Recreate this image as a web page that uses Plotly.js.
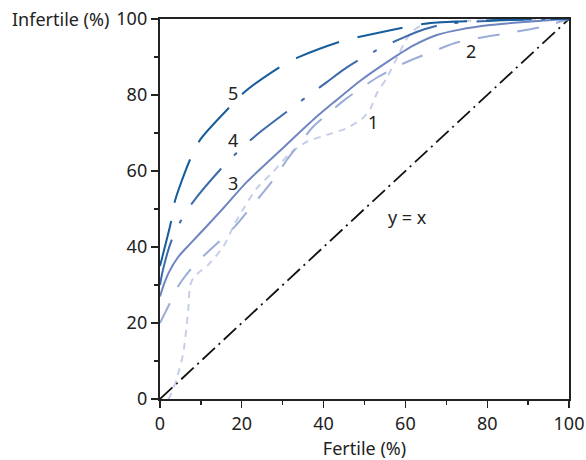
<!DOCTYPE html>
<html>
<head>
<meta charset="utf-8">
<script src="https://cdn.plot.ly/plotly-3.0.1.min.js"></script>
<style>html,body{margin:0;padding:0;background:#fff;}#chart{width:586px;height:460px;}</style>
</head>
<body>
<div id="chart"></div>
<script>
// Curve 1 (lightest, short dashes)
const fertile1 = [2, 2.4, 4, 5.7, 6.9, 7.3, 8.1, 9.7, 11.8, 15.5, 18.3, 20.7, 23.6, 27.7, 31.8, 35.9, 40.8, 45.6, 49.7, 51.5, 53, 55.4, 57.9, 60.3, 62, 64.4, 70, 80, 90, 100];
const infertile1 = [0, 0.6, 5, 12, 23.4, 29.6, 31.8, 33.5, 35.3, 40.1, 46.2, 50.6, 55.4, 59.8, 64.7, 67.7, 69.5, 71.2, 74, 76.5, 80.4, 84.4, 89.7, 94.8, 97, 98.6, 99.3, 99.7, 99.9, 100];
// Curve 2 (light, dashed)
const fertile2 = [0, 2.4, 4.4, 7.7, 10.9, 15, 18.4, 22, 24.9, 28.4, 31, 34.4, 37.5, 41.6, 45.6, 49.7, 53.4, 58.7, 62.8, 68, 72.5, 77.8, 85.6, 93.7, 100];
const infertile2 = [20, 25.2, 29.6, 34.4, 37.9, 42, 45.5, 50.2, 53.9, 58.7, 62.9, 67.7, 71.7, 75.6, 79.1, 82.2, 84.8, 87.9, 89.8, 92, 93.8, 95, 96.4, 98, 100];
// Curve 3 (solid)
const fertile3 = [0, 1, 2.2, 4.4, 7.7, 11.7, 15.8, 21.3, 30, 38, 43.2, 48.9, 55.4, 61.9, 67.7, 73.3, 80.7, 90, 100];
const infertile3 = [27, 30.3, 33.4, 37.3, 41.2, 45.8, 50.6, 57.2, 66, 74, 78.7, 83.7, 88.6, 93, 95.8, 97.2, 98.4, 99.3, 100];
// Curve 4 (long dash-dot)
const fertile4 = [0, 0.7, 2.9, 5.2, 8.1, 15.6, 19.1, 23.6, 32.6, 36.7, 40.8, 44.8, 48.9, 54.6, 59.9, 64.6, 69.3, 80, 90, 100];
const infertile4 = [30, 33.9, 42, 47.1, 51.9, 61.4, 65.1, 69.5, 76.9, 80.2, 83.4, 86.6, 89.4, 92.7, 95.3, 97.3, 98.6, 99.5, 99.9, 100];
// Curve 5 (darkest, long dash)
const fertile5 = [0, 2.8, 3.6, 7.3, 9.8, 17.1, 20.8, 30.1, 34.2, 44.8, 49.7, 60.7, 65.6, 77, 90, 100];
const infertile5 = [35, 47.1, 51.9, 62.9, 68.2, 76.9, 80.9, 87.9, 90.1, 94.3, 95.5, 98, 98.9, 99.5, 99.9, 100];
// Reference line y = x
const diagX = [0, 100];
const diagY = [0, 100];
// Curve labels
const labelText = ["1", "2", "3", "4", "5", "y = x"];
const labelX = [52, 76, 17.8, 17.8, 17.8, 60.5];
const labelY = [72.8, 91.5, 56.8, 68.2, 80.5, 47.8];
const tickVals = [0, 20, 40, 60, 80, 100];

const FONT = "Noto Sans, Open Sans, sans-serif";

const traces = [
  {x: diagX, y: diagY, mode: 'lines', line: {color: '#111', width: 1.8, dash: '17px,5px,2px,5px'}},
  {x: fertile1, y: infertile1, mode: 'lines', line: {color: '#c6cee9', width: 2, dash: '7px,6px', shape: 'spline', smoothing: 0.5}},
  {x: fertile2, y: infertile2, mode: 'lines', line: {color: '#9badd8', width: 2, dash: '22px,18px', shape: 'spline', smoothing: 0.6}},
  {x: fertile3, y: infertile3, mode: 'lines', line: {color: '#6e85c0', width: 2, shape: 'spline', smoothing: 0.8}},
  {x: fertile4, y: infertile4, mode: 'lines', line: {color: '#3d6aaa', width: 2, dash: '47px,18px,4px,18px', shape: 'spline', smoothing: 0.8}},
  {x: fertile5, y: infertile5, mode: 'lines', line: {color: '#165d9c', width: 2, dash: '46px,19px', shape: 'spline', smoothing: 0.8}}
];

const annotations = labelText.map((t, i) => ({
  x: labelX[i], y: labelY[i], xref: 'x', yref: 'y', text: t, showarrow: false,
  font: {family: FONT, size: 18, color: '#222'}
}));
annotations.push({
  x: -0.12, y: 100, xref: 'paper', yref: 'y', text: 'Infertile (%)', showarrow: false,
  xanchor: 'right', yanchor: 'middle', font: {family: FONT, size: 18, color: '#222'}
});

const axisCommon = {
  range: [0, 100], tickvals: tickVals, ticks: 'outside', ticklen: 7, tickwidth: 1.3, tickcolor: '#222',
  showline: true, mirror: true, linecolor: '#222', linewidth: 2.2, showgrid: false, zeroline: false,
  tickfont: {family: FONT, size: 18, color: '#222'},
  minor: {tickvals: [10, 30, 50, 70, 90], ticks: 'outside', ticklen: 4, tickwidth: 1.2, tickcolor: '#222', showgrid: false}
};

const layout = {
  width: 586, height: 460,
  margin: {l: 160, r: 17, t: 19, b: 61},
  paper_bgcolor: '#fff', plot_bgcolor: '#fff',
  showlegend: false,
  xaxis: Object.assign({}, axisCommon, {title: {text: 'Fertile (%)', font: {family: FONT, size: 18, color: '#222'}, standoff: 12}}),
  yaxis: Object.assign({}, axisCommon),
  annotations: annotations
};

Plotly.newPlot('chart', traces, layout, {staticPlot: true, displayModeBar: false});
</script>
</body>
</html>
